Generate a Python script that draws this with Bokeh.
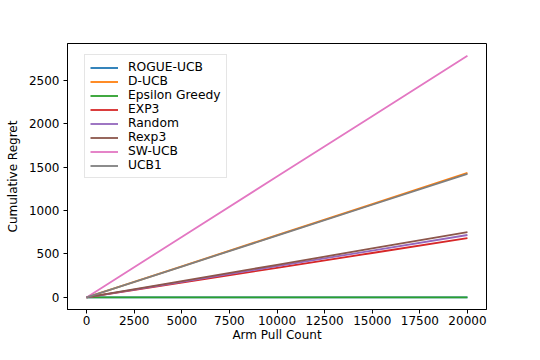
from bokeh.plotting import figure
from bokeh.models import Range1d, FixedTicker, Legend, LegendItem
from bokeh.embed import file_html
from bokeh.resources import INLINE

x = [0, 5000, 10000, 15000, 20000]
names = ["ROGUE-UCB", "D-UCB", "Epsilon Greedy", "EXP3", "Random", "Rexp3", "SW-UCB", "UCB1"]
rogue_ucb = [0, 0, 0, 0, 0]
d_ucb = [0, 358, 716, 1074, 1432]
epsilon_greedy = [0, 0, 0, 0, 0]
exp3 = [0, 170, 341, 511, 682]
random_ = [0, 180, 359, 539, 718]
rexp3 = [0, 188, 375, 563, 750]
sw_ucb = [0, 695, 1390, 2085, 2780]
ucb1 = [0, 355, 711, 1066, 1422]
series = [rogue_ucb, d_ucb, epsilon_greedy, exp3, random_, rexp3, sw_ucb, ucb1]
colors = ["#1f77b4", "#ff7f0e", "#2ca02c", "#d62728", "#9467bd", "#8c564b", "#e377c2", "#7f7f7f"]
x_ticks = [0, 2500, 5000, 7500, 10000, 12500, 15000, 17500, 20000]
y_ticks = [0, 500, 1000, 1500, 2000, 2500]

FONT = "DejaVu Sans"
FS = "12px"

p = figure(width=524, height=344, output_backend="svg", toolbar_location=None,
           x_range=Range1d(-1000, 21000), y_range=Range1d(-139, 2921),
           min_border_left=67, min_border_right=38, min_border_top=43, min_border_bottom=34)
p.background_fill_color = "white"
p.border_fill_color = "white"
p.outline_line_color = "black"
p.outline_line_width = 1
p.xgrid.grid_line_color = None
p.ygrid.grid_line_color = None

renderers = []
for name, ys, c in zip(names, series, colors):
    r = p.line(x, ys, line_color=c, line_width=1.8)
    renderers.append((name, r))

for ax in (p.xaxis[0], p.yaxis[0]):
    ax.axis_line_color = "black"
    ax.major_tick_line_color = "black"
    ax.major_tick_out = 4
    ax.major_tick_in = 0
    ax.minor_tick_out = 0
    ax.minor_tick_in = 0
    ax.major_label_text_font = FONT
    ax.major_label_text_font_size = FS
    ax.major_label_text_color = "black"
    ax.axis_label_text_font = FONT
    ax.axis_label_text_font_size = FS
    ax.axis_label_text_font_style = "normal"
    ax.axis_label_text_color = "black"

p.xaxis[0].major_label_standoff = 2
p.xaxis[0].axis_label_standoff = 0
p.yaxis[0].major_label_standoff = 4
p.yaxis[0].axis_label_standoff = 6
p.xaxis[0].ticker = FixedTicker(ticks=x_ticks)
p.yaxis[0].ticker = FixedTicker(ticks=y_ticks)
p.xaxis[0].axis_label = "Arm Pull Count"
p.yaxis[0].axis_label = "Cumulative Regret"

legend = Legend(items=[LegendItem(label=n, renderers=[r]) for n, r in renderers],
                location=(17, 131))
legend.label_text_font = FONT
legend.label_text_font_size = "12.3px"
legend.label_text_color = "black"
legend.label_height = 13
legend.glyph_height = 13
legend.glyph_width = 28
legend.label_standoff = 10
legend.spacing = 0
legend.padding = 5
legend.margin = 0
legend.border_line_color = "#cccccc"
legend.border_line_width = 1
legend.background_fill_alpha = 0.8
p.add_layout(legend, "center")

open("out.html", "w").write(file_html(p, INLINE))
